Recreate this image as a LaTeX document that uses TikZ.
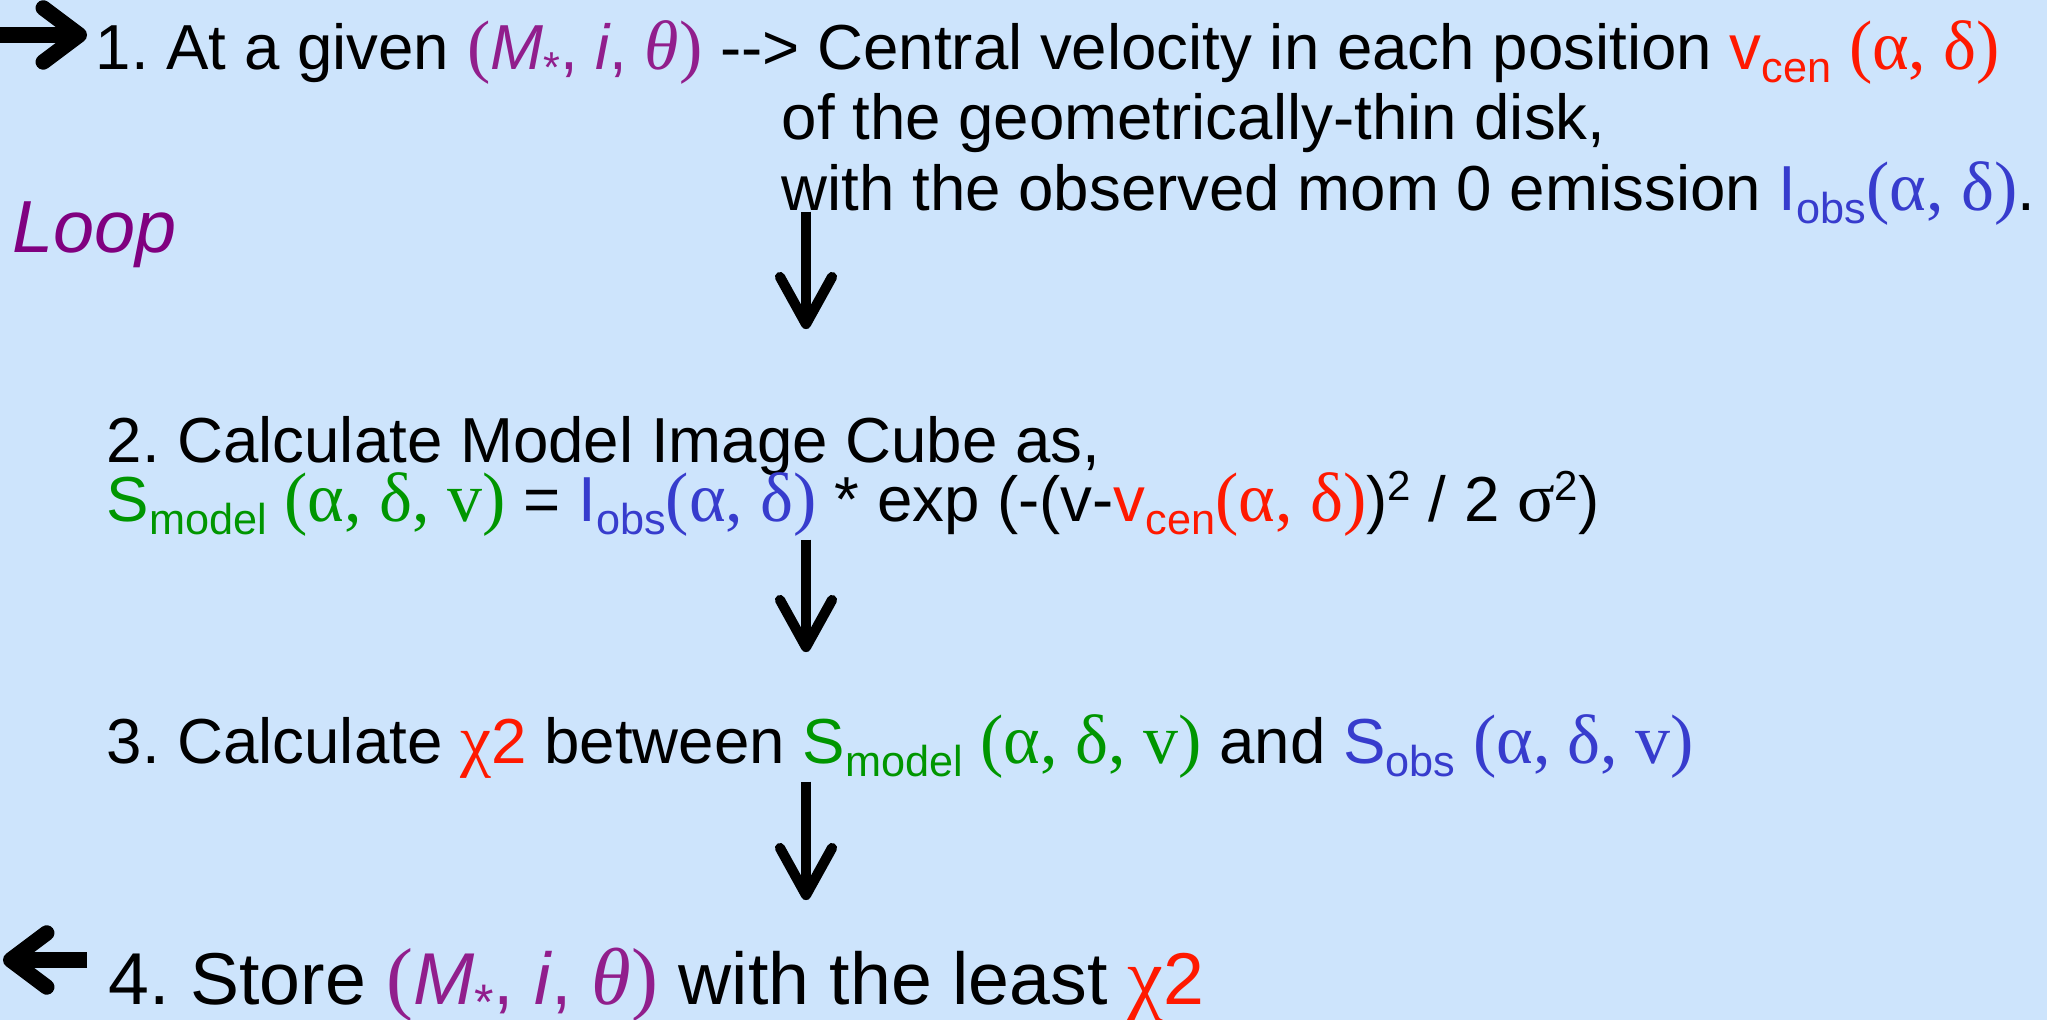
\documentclass[tikz,border=0pt]{standalone}
\usepackage{fontspec}
\setmainfont{Liberation Sans}
\newfontfamily\greekfont{Liberation Serif}[Scale=1.1]
\usetikzlibrary{arrows.meta}

\definecolor{skyblue}{RGB}{205,228,252}
\definecolor{parcol}{RGB}{145,30,140}
\definecolor{loopcol}{RGB}{128,0,128}
\definecolor{velred}{RGB}{255,25,0}
\definecolor{modgreen}{RGB}{0,150,0}
\definecolor{obsblue}{RGB}{55,60,205}

\newcommand{\gk}[1]{{\greekfont #1}}
\newcommand{\lo}[1]{\raisebox{-0.2em}{\scalebox{0.68}{#1}}}
\newcommand{\hi}[1]{\raisebox{0.33em}{\scalebox{0.66}{#1}}}
\newcommand{\params}{\textcolor{parcol}{\gk{(}\textit{M}\lo{*}, \textit{i}, \gk{\itshape θ}\gk{)}}}

\frenchspacing
\tikzset{
  txt/.style={anchor=base west, inner sep=0pt, text height=12pt, text depth=0pt,
    font=\fontsize{18.1}{21}\selectfont},
  flow/.style={line width=2.9pt, -{Straight Barb[round,length=4.7mm,width=5.2mm]}},
  sideflow/.style={line width=4.4pt, -{Straight Barb[round,length=3.6mm,width=5.4mm]}},
}

\begin{document}
\begin{tikzpicture}
\fill[skyblue] (0,0) rectangle (20.47,10.20);
\useasboundingbox (0,0) rectangle (20.47,10.20);

% step 1
\node[txt] (s1a) at (0.95,9.50) {1. At a given \params\ -{}-{}> Central velocity in each position
  \textcolor{velred}{v\lo{cen} \gk{(α, δ)}}};
\node[txt] (s1b) at (7.81,8.80) {of the geometrically-thin disk,};
\node[txt] (s1c) at (7.81,8.09) {with the observed mom 0 emission \textcolor{obsblue}{I\lo{obs}\gk{(α, δ)}}.};

\node[txt, font=\fontsize{21}{24}\selectfont\itshape, text=loopcol] (loop) at (0.12,7.67) {Loop};

% step 2
\node[txt] (s2a) at (1.06,5.57) {2. Calculate Model Image Cube as,};
\node[txt] (eq) at (1.06,4.98) {\textcolor{modgreen}{S\lo{model} \gk{(α, δ, v)}} =
  \textcolor{obsblue}{I\lo{obs}\gk{(α, δ)}} * exp (-(v-\textcolor{velred}{v\lo{cen}\gk{(α, δ)}})\hi{2} / 2 \gk{σ}\hi{2})};

% step 3
\node[txt] (s3) at (1.06,2.56) {3. Calculate \textcolor{velred}{\gk{χ}2} between
  \textcolor{modgreen}{S\lo{model} \gk{(α, δ, v)}} and \textcolor{obsblue}{S\lo{obs} \gk{(α, δ, v)}}};

% step 4
\node[txt, font=\fontsize{20.9}{24}\selectfont] (s4) at (1.08,0.15) {4. Store \params\ with the least \textcolor{velred}{\gk{χ}2}};

\coordinate (ax) at (8.06,0);
\coordinate (in0) at (0,9.85);
\coordinate (out0) at (0.03,0.60);

\draw[sideflow, shorten >=0.08cm] (in0) -- (in0 -| s1a.west);
\draw[flow, shorten >=0.91cm] (s1c.south -| ax) -- (s2a.north -| ax);
\draw[flow, shorten <=0.17cm, shorten >=0.69cm] (eq.south -| ax) -- (s3.north -| ax);
\draw[flow, shorten <=0.17cm, shorten >=0.62cm] (s3.south -| ax) -- (s4.north -| ax);
\draw[sideflow, shorten <=0.21cm] (out0 -| s4.west) -- (out0);

\end{tikzpicture}
\end{document}
